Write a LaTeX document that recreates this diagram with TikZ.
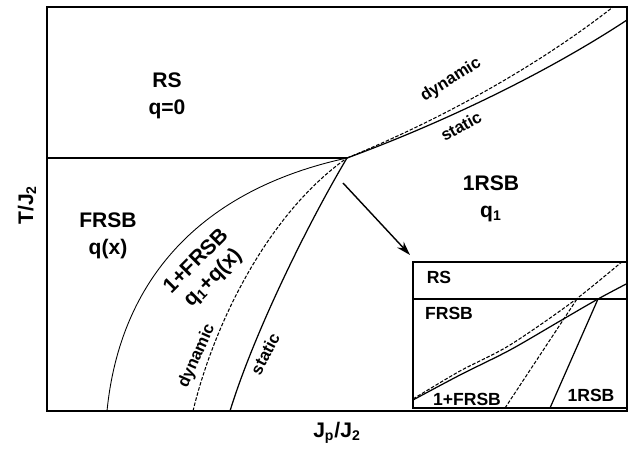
\documentclass[tikz,border=0pt]{standalone}
\usepackage{fontspec}
\setmainfont{Liberation Sans}
\usetikzlibrary{arrows.meta}

\tikzset{
    region/.style={font=\bfseries\fontsize{12}{15}\selectfont, align=center, inner sep=0pt},
    curvelabel/.style={font=\bfseries\fontsize{9.5}{11}\selectfont, inner sep=0pt},
    insetlabel/.style={font=\bfseries\fontsize{10}{12}\selectfont, inner sep=0pt},
    dyn/.style={dash pattern=on 2pt off 1pt, line width=0.6pt},
    stat/.style={line width=0.7pt}
}

\begin{document}
\begin{tikzpicture}[x=0.02cm, y=-0.02cm]
    \useasboundingbox (0,0) rectangle (629,449);

    % frame and the RS line
    \draw [line width=1.2pt] (47,7) rectangle (627,411);
    \coordinate (tp) at (347,158);
    \coordinate (left) at (47,158);
    \draw [line width=1.1pt] (left) -- (tp);

    % phase boundaries
    \draw [line width=0.5pt] (107,411) .. controls (120,280) and (200,190) .. (tp);
    \draw [dyn] (193,411) .. controls (215,320) and (270,212) .. (tp);
    \draw [dyn] (tp) .. controls (430,124) and (530,72) .. (613,7);
    \draw [stat] (230,411) .. controls (255,330) and (310,220) .. (tp);
    \draw [stat] (tp) .. controls (440,124) and (545,74) .. (627,20);

    \node [region] (rs) at (167,96) {RS\\q=0};
    \node [region] (frsb) at (108,236) {FRSB\\q(x)};
    \node [region] (onersb) at (491,199) {1RSB\\q\textsubscript{1}};
    \node [region, rotate=45, font=\bfseries\fontsize{12}{13.5}\selectfont] (mixed) at (205,270) {1+FRSB\\q\textsubscript{1}+q(x)};

    \node [curvelabel, rotate=32] (dynup) at (451,80) {dynamic};
    \node [curvelabel, rotate=29] (statup) at (461,126) {static};
    \node [curvelabel, rotate=66] (dynlow) at (197,356) {dynamic};
    \node [curvelabel, rotate=62] (statlow) at (265,354) {static};

    \node [region, rotate=90] (ylab) at (27,205) {T/J\textsubscript{2}};
    \node [region] (xlab) at (337,433) {J\textsubscript{p}/J\textsubscript{2}};

    % inset
    \fill [white] (413,262) rectangle (627,408);
    \draw [line width=1pt] (413,262) rectangle (627,408);
    \draw [line width=1pt] (413,299) -- (598,299) coordinate (itp);
    \draw [line width=1pt] (itp) -- (627,299);
    \begin{scope}
        \clip (413,262) rectangle (627,408);
        \draw [stat] plot [smooth] coordinates {(413,400) (460,375) (510,350) (560,321) (598,299) (630,282)};
        \draw [dyn] plot [smooth] coordinates {(413,399) (460,371) (510,345) (575,300) (630,255)};
        \draw [dyn] (505,408) -- (577,299);
        \draw [stat] (550,408) -- (itp);
    \end{scope}
    \node [insetlabel] (irs) at (439,277) {RS};
    \node [insetlabel] (ifrsb) at (449,313) {FRSB};
    \node [insetlabel] (imixed) at (467,399) {1+FRSB};
    \node [insetlabel] (ionersb) at (591,395) {1RSB};

    \coordinate (from) at (343,183);
    \coordinate (to) at (410,255);
    \draw [line width=0.8pt, -{Stealth[length=8pt, width=5pt, inset=2.5pt]}] (from) -- (to);
\end{tikzpicture}
\end{document}
